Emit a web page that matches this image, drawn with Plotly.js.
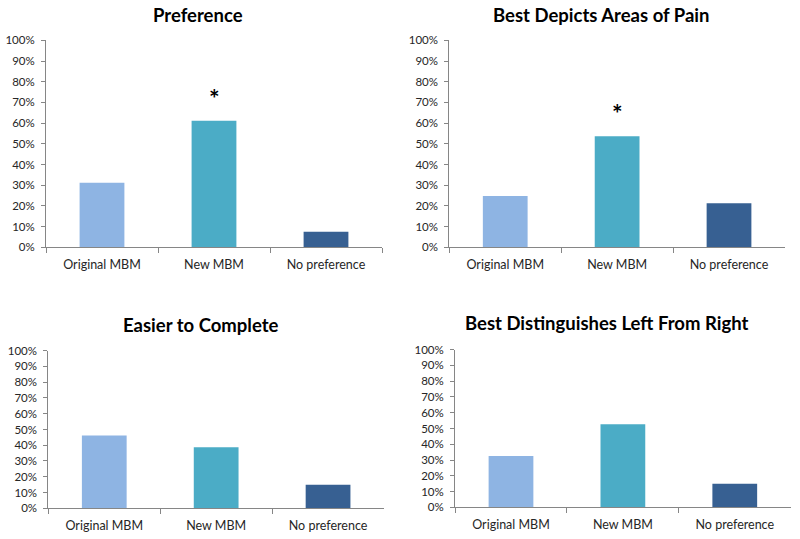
<!DOCTYPE html>
<html>
<head>
<meta charset="utf-8">
<script src="https://cdn.plot.ly/plotly-3.0.1.min.js"></script>
<style>html,body{margin:0;padding:0;background:#fff;}#chart{width:800px;height:539px;}</style>
</head>
<body>
<div id="chart"></div>
<script>
const categories = ["Original MBM", "New MBM", "No preference"];
const panelTitles = ["Preference", "Best Depicts Areas of Pain", "Easier to Complete", "Best Distinguishes Left From Right"];
const preference = [0.312, 0.612, 0.075];
const depictsPain = [0.248, 0.536, 0.213];
const easierComplete = [0.461, 0.387, 0.150];
const leftFromRight = [0.326, 0.527, 0.150];
const significant = [[false, true, false], [false, true, false], [false, false, false], [false, false, false]];
const barColors = ["#8EB4E3", "#4BACC6", "#376092"];
const yTickVals = [0, 0.1, 0.2, 0.3, 0.4, 0.5, 0.6, 0.7, 0.8, 0.9, 1.0];

const series = [preference, depictsPain, easierComplete, leftFromRight];
const xDomains = [[0.0575, 0.4775], [0.5616, 0.9812], [0.0604, 0.48], [0.5688, 0.9884]];
const yDomains = [[0.5412, 0.9252], [0.5412, 0.9252], [0.0570, 0.3494], [0.0588, 0.3512]];
const titleY = [0.972, 0.972, 0.397, 0.401];

const font = "Lato, 'Open Sans', sans-serif";
const traces = [];
const layout = {
  width: 800, height: 539,
  margin: {l: 0, r: 0, t: 0, b: 0},
  paper_bgcolor: "#fff", plot_bgcolor: "#fff",
  showlegend: false,
  font: {family: font, size: 11, color: "#262626"},
  annotations: []
};

series.forEach((vals, i) => {
  const ax = i === 0 ? "" : String(i + 1);
  traces.push({
    type: "bar",
    x: categories,
    y: vals,
    xaxis: "x" + ax,
    yaxis: "y" + ax,
    width: 0.4,
    marker: {color: barColors, line: {width: 0}},
    hoverinfo: "x+y"
  });
  layout["xaxis" + ax] = {
    domain: xDomains[i],
    anchor: "y" + ax,
    type: "category",
    range: [-0.5, 2.5],
    showline: true, linecolor: "#868686", linewidth: 1,
    ticks: "outside", ticklen: 5, tickcolor: "#868686",
    tickson: "boundaries",
    ticklabelstandoff: 6,
    showgrid: false, zeroline: false,
    tickfont: {family: font, size: 12.5, color: "#262626"},
    fixedrange: true
  };
  layout["yaxis" + ax] = {
    domain: yDomains[i],
    anchor: "x" + ax,
    range: [0, 1],
    tickvals: yTickVals,
    tickformat: ".0%",
    showline: true, linecolor: "#868686", linewidth: 1,
    ticks: "outside", ticklen: 4, tickcolor: "#868686",
    ticklabelstandoff: 4,
    showgrid: false, zeroline: false,
    tickfont: {family: font, size: 11.5, color: "#262626"},
    fixedrange: true
  };
  layout.annotations.push({
    xref: "paper", yref: "paper",
    x: (xDomains[i][0] + xDomains[i][1]) / 2 - 0.02,
    y: titleY[i],
    text: "<b>" + panelTitles[i] + "</b>",
    showarrow: false,
    xanchor: "center", yanchor: "middle",
    font: {family: font, size: 18.5, color: "#000"}
  });
  significant[i].forEach((sig, j) => {
    if (sig) {
      layout.annotations.push({
        xref: "x" + ax, yref: "y" + ax,
        x: categories[j], y: vals[j],
        yshift: 6,
        text: "<b>*</b>",
        showarrow: false,
        xanchor: "center", yanchor: "bottom",
        font: {family: font, size: 25, color: "#000"}
      });
    }
  });
});

Plotly.newPlot("chart", traces, layout, {displayModeBar: false, staticPlot: true});
</script>
</body>
</html>
